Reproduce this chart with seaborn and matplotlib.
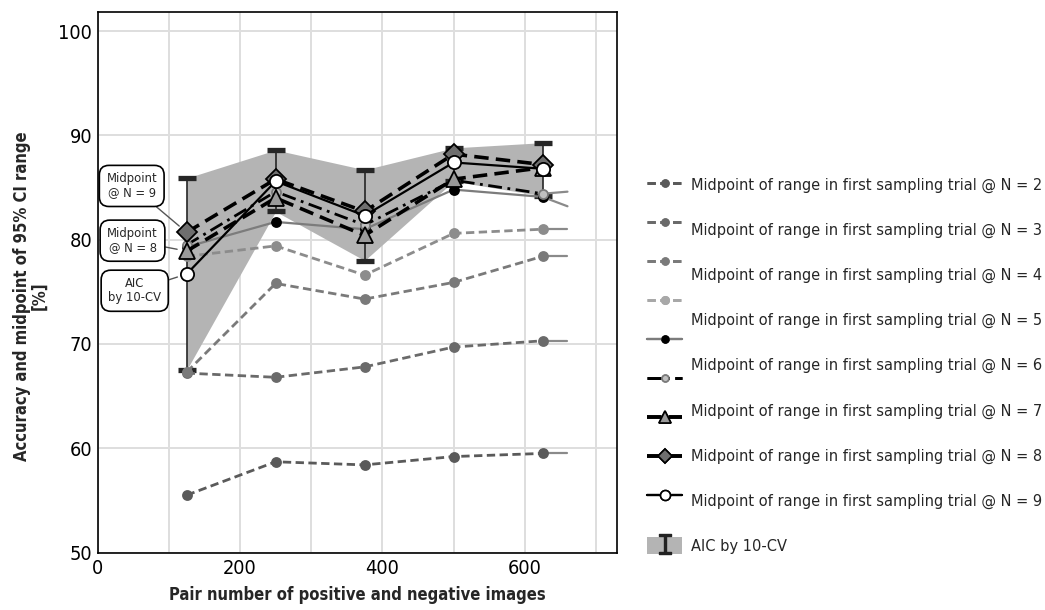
import numpy as np
import pandas as pd
import seaborn as sns
import matplotlib
matplotlib.use("Agg")
import matplotlib.pyplot as plt
from matplotlib import font_manager as fm
from matplotlib.lines import Line2D
from matplotlib.patches import Patch
from matplotlib.legend_handler import HandlerTuple

# ---------------- data ----------------
pairs = [125, 250, 375, 500, 625]
x_tail = 660
mid_n2 = [55.5, 58.7, 58.4, 59.2, 59.5]
mid_n3 = [67.2, 66.8, 67.8, 69.7, 70.3]
mid_n4 = [67.3, 75.8, 74.3, 75.9, 78.4]
mid_n5 = [78.4, 79.4, 76.6, 80.6, 81.0]
mid_n6 = [79.3, 81.7, 81.0, 84.8, 84.1]
mid_n7 = [79.5, 84.6, 81.4, 85.7, 84.4]
mid_n8 = [78.9, 84.0, 80.4, 85.8, 86.9]
mid_n9 = [80.7, 85.8, 82.7, 88.2, 87.2]
aic_acc = [76.7, 85.6, 82.3, 87.4, 86.8]
aic_low = [67.5, 82.7, 78.0, 85.6, 84.2]
aic_high = [85.9, 88.6, 86.7, 88.8, 89.3]
tail_n2_to_n7 = [59.5, 70.3, 78.4, 81.0, 83.2, 84.6]

legend_labels = [f"Midpoint of range in first sampling trial @ N = {n}" for n in range(2, 10)]
aic_label = "AIC by 10-CV"
xlabel = "Pair number of positive and negative images"
ylabel = "Accuracy and midpoint of 95% CI range\n[%]"
xticks = [0, 200, 400, 600]
yticks = [50, 60, 70, 80, 90, 100]

series_names = ["n2", "n3", "n4", "n5", "n6", "n7", "n8", "n9", "aic"]
series_vals = [mid_n2, mid_n3, mid_n4, mid_n5, mid_n6, mid_n7, mid_n8, mid_n9, aic_acc]

df = pd.DataFrame({
    "pairs": np.tile(pairs, len(series_names)),
    "value": np.concatenate(series_vals),
    "series": np.repeat(series_names, len(pairs)),
})

# ---------------- fonts ----------------
sns.set_style("white")
names = {f.name for f in fm.fontManager.ttflist}
def has_cond(fam):
    for f in fm.fontManager.ttflist:
        if f.name == fam and str(f.stretch) in ("condensed", "semi-condensed", "extra-condensed", "ultra-condensed"):
            return True
    return False
FAM, STR = "Roboto", "normal"
if "Liberation Sans Narrow" in names:
    FAM, STR = "Liberation Sans Narrow", "normal"
elif has_cond("DejaVu Sans"):
    FAM, STR = "DejaVu Sans", "condensed"
elif has_cond("Noto Sans"):
    FAM, STR = "Noto Sans", "condensed"
elif has_cond("Open Sans"):
    FAM, STR = "Open Sans", "condensed"
plt.rcParams["font.family"] = [FAM, "DejaVu Sans"]
plt.rcParams["font.stretch"] = STR

W, H, DPI = 1045, 610, 100
fig = plt.figure(figsize=(W / DPI, H / DPI), dpi=DPI)
renderer = fig.canvas.get_renderer()

def fit_size(txt, target_px, weight="normal"):
    t = fig.text(0, 0, txt, fontsize=20, fontweight=weight)
    w = t.get_window_extent(renderer=renderer).width
    t.remove()
    return 20 * target_px / w

fs_tick = fit_size("100", 34)
fs_leg = fit_size(legend_labels[0], 350)
fs_lab = fit_size("Accuracy and midpoint of 95% CI range", 330, "bold")
fs_ann = fit_size("Midpoint", 50)

# axes placement (pixels)
L, R, T, B = 97.7, 617.3, 12.3, 552.5
ax = fig.add_axes([L / W, 1 - B / H, (R - L) / W, (B - T) / H])

# ---------------- band + error bars ----------------
ax.fill_between(pairs, aic_low, aic_high, color="#b4b4b4", lw=0, zorder=1)
mid = (np.array(aic_low) + np.array(aic_high)) / 2
half = (np.array(aic_high) - np.array(aic_low)) / 2
ax.errorbar(pairs, mid, yerr=half, fmt="none", ecolor="#262626", elinewidth=1.2,
            capsize=6.5, capthick=3.8, zorder=2)

# ---------------- lines ----------------
styles = {
    "n2": dict(color="#5a5a5a", ls=(0, (3, 1.6)), lw=2.0, marker="o", ms=6.5, mfc="#5a5a5a", mec="#5a5a5a"),
    "n3": dict(color="#6a6a6a", ls=(0, (3, 1.6)), lw=2.0, marker="o", ms=6.5, mfc="#6a6a6a", mec="#6a6a6a"),
    "n4": dict(color="#7a7a7a", ls=(0, (3, 1.6)), lw=2.0, marker="o", ms=6.5, mfc="#7a7a7a", mec="#7a7a7a"),
    "n5": dict(color="#8c8c8c", ls=(0, (3, 1.6)), lw=2.0, marker="o", ms=6.5, mfc="#8c8c8c", mec="#8c8c8c"),
    "n6": dict(color="#7c7c7c", ls="-", lw=1.6, marker="o", ms=6.5, mfc="black", mec="black"),
    "n7": dict(color="black", ls=(0, (5, 2, 1, 2)), lw=2.0, marker="o", ms=6.5, mfc="#c0c0c0", mec="#7a7a7a"),
    "n8": dict(color="black", ls=(0, (4, 2)), lw=2.6, marker="^", ms=12, mfc="#9a9a9a", mec="black"),
    "n9": dict(color="black", ls=(0, (4, 2)), lw=2.6, marker="D", ms=10, mfc="#6e6e6e", mec="black"),
    "aic": dict(color="black", ls="-", lw=1.6, marker="o", ms=9.5, mfc="white", mec="black"),
}
zorders = [3, 3, 3, 3, 4, 5, 6, 7, 8]

# short tails past the last sample
for name, vals, tail in zip(series_names[:6], series_vals[:6], tail_n2_to_n7):
    tdf = pd.DataFrame({"pairs": [pairs[-1], x_tail], "value": [vals[-1], tail]})
    sns.lineplot(data=tdf, x="pairs", y="value", ax=ax, color="#8a8a8a", lw=1.6,
                 linestyle="-", legend=False, errorbar=None, zorder=2.5)

for name, z in zip(series_names, zorders):
    st = styles[name]
    sns.lineplot(data=df[df.series == name], x="pairs", y="value", ax=ax,
                 color=st["color"], linestyle=st["ls"], linewidth=st["lw"],
                 marker=st["marker"], markersize=st["ms"], markerfacecolor=st["mfc"],
                 markeredgecolor=st["mec"], markeredgewidth=1.3,
                 legend=False, errorbar=None, sort=False, zorder=z)

# ---------------- axes styling ----------------
ax.set_xlim(0, 730)
ax.set_ylim(50, 101.8)
ax.set_xticks(xticks)
ax.set_xticks([100, 300, 500, 700], minor=True)
ax.set_yticks(yticks)
ax.set_axisbelow(True)
ax.grid(which="both", color="#dedede", lw=1.4)
ax.tick_params(which="both", length=0, labelsize=fs_tick, colors="black")
ax.tick_params(axis="x", pad=5)
ax.tick_params(axis="y", pad=4)
for s in ax.spines.values():
    s.set_color("black")
    s.set_linewidth(1.2)

ax.set_xlabel(xlabel, fontsize=fs_lab, fontweight="bold", va="center")
ax.xaxis.set_label_coords(0.5, (H - 595 - (H - B)) / (B - T))
ax.set_ylabel(ylabel, fontsize=fs_lab, fontweight="bold", va="center", ha="center",
              multialignment="center", linespacing=0.95)
ax.yaxis.set_label_coords((31 - L) / (R - L), (H - 296 - (H - B)) / (B - T))

# ---------------- annotations ----------------
ann = [
    ("Midpoint\n@ N = 9", mid_n9[0], 47.8, 85.15),
    ("Midpoint\n@ N = 8", mid_n8[0], 48.9, 79.9),
    ("AIC\nby 10-CV", aic_acc[0], 52.0, 75.1),
]
for txt, yv, tx, ty in ann:
    ax.annotate(txt, xy=(pairs[0], yv), xytext=(tx, ty), ha="center", va="center",
                fontsize=fs_ann, linespacing=1.1, zorder=10,
                bbox=dict(boxstyle="round,pad=0.55,rounding_size=0.75", fc="white", ec="black", lw=1.2),
                arrowprops=dict(arrowstyle="-", color="#555555", lw=1.0, shrinkA=0, shrinkB=7))

# ---------------- legends ----------------
def proxy(name):
    st = styles[name]
    return Line2D([], [], color=st["color"], ls=st["ls"], lw=st["lw"], marker=st["marker"],
                  ms=st["ms"] * 0.75, mfc=st["mfc"], mec=st["mec"], mew=1.2)

handles_a = [proxy(n) for n in series_names]
handles_a[3] = Line2D([], [], color="#a8a8a8", ls=(0, (3, 1.6)), lw=2, marker="o", ms=5.5,
                      mfc="#a8a8a8", mec="#a8a8a8")
labels_a = [" "] * len(handles_a)

blank = Line2D([], [], ls="none", marker=None)
band_handle = (Patch(fc="#b4b4b4", ec="none"),
               Line2D([], [], ls="none", marker="$\\mathtt{I}$", ms=15, color="#222222"))
handles_b = [blank] * 8 + [band_handle]
labels_b = legend_labels + [aic_label]

fs_px = fs_leg * DPI / 72

def make_legend(handles, labels, pitch_px, x_px, y_first_px, hh_px, htp_px):
    ls = 0.5
    kw = dict(loc="upper left", frameon=False, fontsize=fs_leg, borderpad=0, borderaxespad=0,
              handlelength=35 / fs_px, handleheight=hh_px / fs_px, handletextpad=htp_px / fs_px,
              handler_map={tuple: HandlerTuple(ndivide=1, pad=0)})
    for _ in range(4):
        leg = fig.legend(handles, labels, bbox_to_anchor=(0, 1), bbox_transform=fig.transFigure,
                         labelspacing=ls, **kw)
        fig.canvas.draw()
        tx = leg.get_texts()
        b0 = tx[0].get_window_extent(); b1 = tx[-1].get_window_extent()
        pitch = ((b0.y0 + b0.y1) / 2 - (b1.y0 + b1.y1) / 2) / (len(tx) - 1)
        leg.remove()
        ls += (pitch_px - pitch) / fs_px
    leg = fig.legend(handles, labels, bbox_to_anchor=(0, 1), bbox_transform=fig.transFigure,
                     labelspacing=ls, **kw)
    fig.canvas.draw()
    lb = leg.get_window_extent()
    b0 = leg.get_texts()[0].get_window_extent()
    c0 = (b0.y0 + b0.y1) / 2
    top = lb.y1 + ((H - y_first_px) - c0)
    left = x_px
    leg.set_bbox_to_anchor((left / W, top / H), transform=fig.transFigure)
    return leg

leg_a = make_legend(handles_a, labels_a, 39.0, 647, 185, 14, 0.2)
fig.add_artist(leg_a)
leg_b = make_legend(handles_b, labels_b, 45.2, 647, 185, 19, 9)

fig.savefig("out.png", dpi=DPI)
